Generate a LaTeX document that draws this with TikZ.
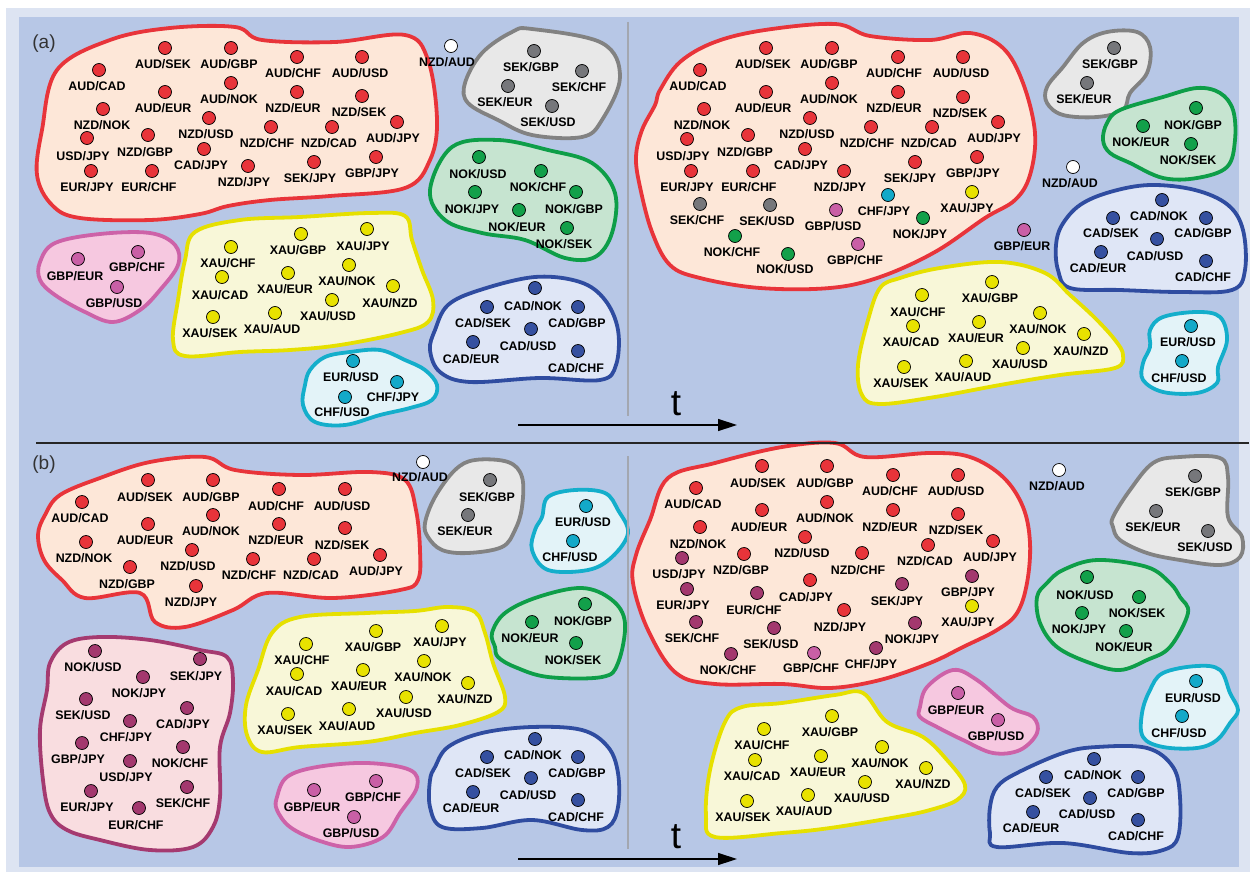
\documentclass[tikz,border=0pt]{standalone}
\usepackage{fontspec}
\setmainfont{Liberation Sans}
\usetikzlibrary{arrows.meta}
\definecolor{bg}{HTML}{B7C7E6}
\definecolor{frm}{HTML}{DDE4F2}
\definecolor{redS}{HTML}{E8343A}\definecolor{redF}{HTML}{FDE7D8}
\definecolor{grayS}{HTML}{828282}\definecolor{grayF}{HTML}{E8E8E8}\definecolor{grayD}{HTML}{76777B}
\definecolor{greenS}{HTML}{0E9E48}\definecolor{greenF}{HTML}{C6E4D0}\definecolor{greenD}{HTML}{12A04A}
\definecolor{pinkS}{HTML}{CD62A8}\definecolor{pinkF}{HTML}{F6C8E0}\definecolor{pinkD}{HTML}{C95FA6}
\definecolor{yelS}{HTML}{E6E000}\definecolor{yelF}{HTML}{F8F7D8}\definecolor{yelD}{HTML}{E8E200}
\definecolor{cyanS}{HTML}{14AECB}\definecolor{cyanF}{HTML}{E3F3F8}\definecolor{cyanD}{HTML}{13A9C9}
\definecolor{blueS}{HTML}{2F4CA0}\definecolor{blueF}{HTML}{DFE6F6}\definecolor{blueD}{HTML}{3550A0}
\definecolor{purS}{HTML}{A53A70}\definecolor{purF}{HTML}{F9DDE0}\definecolor{purD}{HTML}{A3386E}
\definecolor{divg}{HTML}{A3A7B0}
\newcounter{pc}
\newcommand{\cp}[6]{\stepcounter{pc}%
  \node[dotn,fill=#1] (d\arabic{pc}) at (#2,#3) {};%
  \node[lab] (l\arabic{pc}) at (#4,#5) {#6};}
\newcommand{\blobR}[3]{\filldraw[blobn,draw=#1,fill=#2] plot[smooth cycle,tension=0.6] coordinates {#3};}
\tikzset{
  dotn/.style={circle,draw=black,line width=0.7pt,minimum size=13pt,inner sep=0pt},
  lab/.style={font=\bfseries\fontsize{12.4}{13}\selectfont,inner sep=0pt},
  blobn/.style={line width=3.8pt,line join=round},
  tlab/.style={font=\fontsize{37}{40}\selectfont,inner sep=0pt},
  plab/.style={font=\fontsize{19}{21}\selectfont,text=black!80,inner sep=0pt},
  tarrow/.style={line width=1.4pt,-{Triangle[length=19pt,width=12pt]}},
}
\begin{document}
\begin{tikzpicture}[x=1pt,y=-1pt]
\useasboundingbox (0,0) rectangle (1250,872);
\fill[white] (0,0) rectangle (1250,872);
\fill[frm] (6,8) rectangle (1250,872);
\fill[bg] (19,17) rectangle (1239,867);
% ---------------- (a) left ----------------
\blobR{redS}{redF}{(57,70) (110,40) (170,28) (235,27) (262,40) (335,42) (405,35) (428,60) (437,120) (430,160) (405,188) (330,196) (270,200) (228,206) (200,214) (150,220) (80,218) (52,205) (37,175) (42,130)}
\blobR{grayS}{grayF}{(482,53) (512,32) (532,29) (602,43) (620,77) (602,120) (582,137) (532,135) (498,120) (468,103) (465,83)}
\blobR{greenS}{greenF}{(452,147) (498,140) (548,150) (592,163) (615,193) (612,233) (595,257) (565,258) (525,240) (482,233) (445,220) (430,190)}
\blobR{pinkS}{pinkF}{(40,262) (55,243) (100,234) (150,233) (175,245) (178,265) (160,290) (140,310) (113,322) (85,312) (55,295) (40,280)}
\blobR{yelS}{yelF}{(195,232) (240,220) (300,217) (370,213) (405,216) (412,240) (422,270) (433,300) (428,322) (400,333) (340,345) (290,350) (240,352) (185,356) (173,340) (178,300) (185,260)}
\blobR{cyanS}{cyanF}{(310,370) (325,357) (350,352) (380,350) (405,360) (425,370) (437,385) (432,400) (410,408) (380,415) (345,425) (315,422) (303,405) (305,385)}
\blobR{blueS}{blueF}{(435,330) (448,305) (480,290) (535,277) (580,282) (605,300) (618,330) (616,365) (600,380) (540,378) (470,382) (440,372) (430,350)}
% ---------------- (a) right ----------------
\blobR{redS}{redF}{(660,90) (680,62) (715,42) (765,30) (835,24) (870,36) (930,40) (970,33) (1003,48) (1023,83) (1035,133) (1030,175) (1015,200) (985,218) (935,252) (880,277) (830,288) (760,288) (700,278) (670,265) (652,232) (640,187) (636,157) (642,130) (655,105)}
\blobR{grayS}{grayF}{(1047,87) (1063,67) (1083,43) (1107,32) (1137,32) (1150,47) (1147,73) (1130,93) (1123,110) (1097,117) (1063,115) (1047,103)}
\blobR{greenS}{greenF}{(1107,123) (1120,110) (1163,97) (1197,88) (1220,93) (1233,110) (1235,140) (1227,167) (1197,178) (1163,178) (1130,163) (1110,153) (1103,140)}
\blobR{blueS}{blueF}{(1062,225) (1080,205) (1110,192) (1150,185) (1195,190) (1228,205) (1243,230) (1245,270) (1232,290) (1180,292) (1120,290) (1070,288) (1058,270) (1056,245)}
\blobR{yelS}{yelF}{(862,395) (858,365) (868,320) (880,288) (900,278) (940,268) (1000,262) (1045,273) (1070,295) (1095,318) (1115,340) (1123,355) (1115,368) (1060,375) (1000,385) (935,397) (880,404)}
\blobR{cyanS}{cyanF}{(1150,330) (1163,317) (1197,312) (1220,317) (1227,340) (1218,367) (1217,383) (1197,393) (1163,392) (1143,380) (1143,363) (1150,347)}
% ---------------- (b) left ----------------
\blobR{redS}{redF}{(45,515) (60,495) (100,478) (150,462) (205,457) (235,470) (300,475) (370,472) (405,480) (416,510) (420,550) (418,580) (400,590) (333,598) (267,593) (233,610) (185,627) (155,622) (140,593) (85,598) (62,580) (44,560) (38,535)}
\blobR{grayS}{grayF}{(425,523) (435,497) (455,470) (475,460) (508,462) (522,477) (522,507) (515,530) (502,547) (468,553) (442,550) (428,537)}
\blobR{cyanS}{cyanF}{(542,517) (548,497) (575,490) (605,493) (618,510) (628,533) (612,557) (588,570) (548,570) (532,550) (535,530)}
\blobR{greenS}{greenF}{(495,647) (492,633) (505,613) (538,597) (582,588) (612,600) (625,623) (618,663) (602,677) (548,677) (515,667) (498,657)}
\blobR{purS}{purF}{(50,663) (67,643) (100,637) (150,640) (200,650) (227,657) (233,680) (230,713) (220,747) (220,797) (213,827) (193,847) (150,850) (100,840) (67,830) (50,813) (43,780) (40,730) (47,690)}
\blobR{yelS}{yelF}{(247,735) (246,705) (258,670) (272,633) (300,617) (367,613) (415,611) (448,607) (475,612) (485,633) (493,663) (505,697) (498,712) (460,725) (415,733) (367,742) (300,747) (262,752)}
\blobR{pinkS}{pinkF}{(277,797) (287,777) (317,767) (367,763) (410,770) (417,787) (400,813) (383,837) (350,847) (317,840) (290,827) (277,810)}
\blobR{blueS}{blueF}{(435,767) (448,747) (482,733) (532,727) (582,730) (608,747) (618,773) (618,807) (608,827) (582,830) (532,820) (482,828) (442,827) (430,807) (430,780)}
% ---------------- (b) right ----------------
\blobR{redS}{redF}{(650,520) (668,478) (715,463) (782,447) (835,443) (865,457) (930,453) (970,457) (1003,477) (1023,507) (1030,543) (1027,583) (1017,613) (997,630) (963,647) (930,663) (880,680) (830,688) (782,684) (715,684) (676,673) (648,630) (633,583) (636,555)}
\blobR{grayS}{grayF}{(1113,517) (1130,490) (1153,463) (1180,457) (1220,458) (1228,477) (1228,517) (1242,537) (1240,557) (1220,565) (1180,560) (1147,553) (1120,540) (1113,527)}
\blobR{greenS}{greenF}{(1047,583) (1063,570) (1097,560) (1147,567) (1170,583) (1180,597) (1188,613) (1170,647) (1147,660) (1120,670) (1090,663) (1057,647) (1040,623) (1037,597)}
\blobR{pinkS}{pinkF}{(920,707) (927,687) (953,670) (977,680) (1010,707) (1033,717) (1037,733) (1020,750) (993,753) (963,740) (937,727) (920,717)}
\blobR{cyanS}{cyanF}{(1150,690) (1163,673) (1197,666) (1220,670) (1230,693) (1238,710) (1230,723) (1217,740) (1197,748) (1163,747) (1143,737) (1142,713)}
\blobR{yelS}{yelF}{(706,815) (710,770) (725,722) (742,707) (782,703) (835,695) (863,693) (887,722) (923,737) (947,760) (965,785) (957,800) (930,810) (897,817) (830,828) (782,833) (715,837)}
\blobR{blueS}{blueF}{(990,807) (997,787) (1017,773) (1063,753) (1097,747) (1147,748) (1173,767) (1180,797) (1178,837) (1163,850) (1130,853) (1063,843) (997,847) (990,833)}
% ---------------- dividers ----------------
\coordinate (h1) at (36,443); \coordinate (h2) at (1249,443);
\draw[line width=1.2pt,black!85] (h1) -- (h2);
\coordinate (v1) at (628,22); \coordinate (v2) at (628,416);
\coordinate (v3) at (628,456); \coordinate (v4) at (628,849);
\draw[line width=1.8pt,divg] (v1) -- (v2);
\draw[line width=1.8pt,divg] (v3) -- (v4);
\node[plab] (pa) at (44,44) {(a)};
\node[plab] (pb) at (44,465) {(b)};
\coordinate (ta1) at (518,425); \coordinate (ta2) at (737,425);
\draw[tarrow] (ta1) -- (ta2);
\node[tlab] (t1) at (676,404) {t};
\coordinate (tb1) at (518,859); \coordinate (tb2) at (737,859);
\draw[tarrow] (tb1) -- (tb2);
\node[tlab] (t2) at (676,837) {t};
% ================= (a) left dots =================
\cp{redS}{165}{48}{163}{64}{AUD/SEK}
\cp{redS}{231}{48}{229}{64}{AUD/GBP}
\cp{redS}{297}{57}{293}{73}{AUD/CHF}
\cp{redS}{362}{57}{360}{73}{AUD/USD}
\cp{redS}{99}{70}{97}{86}{AUD/CAD}
\cp{redS}{165}{92}{163}{108}{AUD/EUR}
\cp{redS}{231}{83}{229}{99}{AUD/NOK}
\cp{redS}{297}{92}{293}{108}{NZD/EUR}
\cp{redS}{362}{96}{359}{112}{NZD/SEK}
\cp{redS}{103}{109}{102}{125}{NZD/NOK}
\cp{redS}{209}{118}{206}{134}{NZD/USD}
\cp{redS}{271}{127}{267}{143}{NZD/CHF}
\cp{redS}{332}{127}{329}{143}{NZD/CAD}
\cp{redS}{397}{122}{393}{138}{AUD/JPY}
\cp{redS}{87}{138}{83}{156}{USD/JPY}
\cp{redS}{148}{135}{145}{152}{NZD/GBP}
\cp{redS}{204}{149}{201}{165}{CAD/JPY}
\cp{redS}{91}{171}{87}{187}{EUR/JPY}
\cp{redS}{152}{171}{149}{187}{EUR/CHF}
\cp{redS}{248}{166}{244}{182}{NZD/JPY}
\cp{redS}{314}{162}{310}{178}{SEK/JPY}
\cp{redS}{376}{157}{372}{173}{GBP/JPY}
\cp{white}{451}{46}{447}{62}{NZD/AUD}
\cp{grayD}{534}{51}{531}{67}{SEK/GBP}
\cp{grayD}{582}{71}{579}{87}{SEK/CHF}
\cp{grayD}{508}{86}{505}{102}{SEK/EUR}
\cp{grayD}{552}{106}{548}{122}{SEK/USD}
\cp{greenD}{479}{157}{478}{174}{NOK/USD}
\cp{greenD}{541}{171}{538}{187}{NOK/CHF}
\cp{greenD}{475}{192}{472}{209}{NOK/JPY}
\cp{greenD}{576}{192}{574}{209}{NOK/GBP}
\cp{greenD}{519}{210}{517}{227}{NOK/EUR}
\cp{greenD}{567}{228}{564}{244}{NOK/SEK}
\cp{pinkD}{78}{259}{75}{276}{GBP/EUR}
\cp{pinkD}{138}{252}{137}{267}{GBP/CHF}
\cp{pinkD}{117}{287}{114}{303}{GBP/USD}
\cp{yelD}{231}{247}{228}{263}{XAU/CHF}
\cp{yelD}{301}{234}{298}{250}{XAU/GBP}
\cp{yelD}{367}{229}{363}{246}{XAU/JPY}
\cp{yelD}{222}{277}{220}{295}{XAU/CAD}
\cp{yelD}{288}{273}{285}{289}{XAU/EUR}
\cp{yelD}{349}{265}{347}{281}{XAU/NOK}
\cp{yelD}{393}{286}{390}{303}{XAU/NZD}
\cp{yelD}{332}{300}{328}{316}{XAU/USD}
\cp{yelD}{213}{317}{210}{333}{XAU/SEK}
\cp{yelD}{275}{313}{272}{329}{XAU/AUD}
\cp{cyanD}{353}{361}{351}{377}{EUR/USD}
\cp{cyanD}{397}{382}{393}{397}{CHF/JPY}
\cp{cyanD}{345}{397}{342}{412}{CHF/USD}
\cp{blueD}{535}{288}{533}{306}{CAD/NOK}
\cp{blueD}{487}{307}{483}{323}{CAD/SEK}
\cp{blueD}{578}{307}{577}{323}{CAD/GBP}
\cp{blueD}{531}{329}{528}{346}{CAD/USD}
\cp{blueD}{473}{342}{471}{359}{CAD/EUR}
\cp{blueD}{578}{351}{576}{368}{CAD/CHF}
% ================= (a) right dots =================
\cp{redS}{766}{48}{763}{64}{AUD/SEK}
\cp{redS}{832}{48}{829}{64}{AUD/GBP}
\cp{redS}{898}{57}{894}{73}{AUD/CHF}
\cp{redS}{963}{57}{961}{73}{AUD/USD}
\cp{redS}{700}{70}{698}{86}{AUD/CAD}
\cp{redS}{766}{92}{763}{108}{AUD/EUR}
\cp{redS}{832}{83}{829}{99}{AUD/NOK}
\cp{redS}{898}{92}{894}{108}{NZD/EUR}
\cp{redS}{963}{97}{960}{113}{NZD/SEK}
\cp{redS}{704}{109}{702}{125}{NZD/NOK}
\cp{redS}{810}{118}{807}{134}{NZD/USD}
\cp{redS}{871}{127}{867}{143}{NZD/CHF}
\cp{redS}{932}{127}{929}{143}{NZD/CAD}
\cp{redS}{998}{122}{994}{138}{AUD/JPY}
\cp{redS}{687}{139}{683}{156}{USD/JPY}
\cp{redS}{748}{135}{745}{152}{NZD/GBP}
\cp{redS}{805}{149}{801}{165}{CAD/JPY}
\cp{redS}{691}{171}{687}{187}{EUR/JPY}
\cp{redS}{753}{171}{749}{187}{EUR/CHF}
\cp{redS}{844}{171}{840}{187}{NZD/JPY}
\cp{redS}{915}{162}{910}{178}{SEK/JPY}
\cp{redS}{977}{157}{973}{173}{GBP/JPY}
\cp{grayD}{700}{204}{697}{220}{SEK/CHF}
\cp{grayD}{770}{205}{767}{221}{SEK/USD}
\cp{pinkD}{836}{210}{833}{226}{GBP/USD}
\cp{cyanD}{888}{195}{884}{211}{CHF/JPY}
\cp{yelD}{972}{192}{967}{208}{XAU/JPY}
\cp{greenD}{923}{218}{920}{234}{NOK/JPY}
\cp{greenD}{735}{236}{732}{252}{NOK/CHF}
\cp{greenD}{788}{254}{785}{269}{NOK/USD}
\cp{pinkD}{858}{244}{855}{260}{GBP/CHF}
\cp{grayD}{1114}{48}{1110}{64}{SEK/GBP}
\cp{grayD}{1087}{83}{1084}{99}{SEK/EUR}
\cp{greenD}{1196}{108}{1193}{125}{NOK/GBP}
\cp{greenD}{1143}{126}{1141}{142}{NOK/EUR}
\cp{greenD}{1191}{144}{1188}{160}{NOK/SEK}
\cp{white}{1073}{167}{1070}{183}{NZD/AUD}
\cp{pinkD}{1024}{230}{1022}{246}{GBP/EUR}
\cp{blueD}{1162}{200}{1159}{216}{CAD/NOK}
\cp{blueD}{1113}{218}{1111}{233}{CAD/SEK}
\cp{blueD}{1206}{218}{1203}{233}{CAD/GBP}
\cp{blueD}{1157}{239}{1155}{256}{CAD/USD}
\cp{blueD}{1101}{252}{1098}{268}{CAD/EUR}
\cp{blueD}{1206}{261}{1203}{277}{CAD/CHF}
\cp{yelD}{992}{282}{990}{298}{XAU/GBP}
\cp{yelD}{922}{295}{918}{312}{XAU/CHF}
\cp{yelD}{913}{326}{911}{342}{XAU/CAD}
\cp{yelD}{979}{322}{976}{338}{XAU/EUR}
\cp{yelD}{1040}{313}{1038}{329}{XAU/NOK}
\cp{yelD}{1084}{334}{1081}{351}{XAU/NZD}
\cp{yelD}{1023}{348}{1020}{364}{XAU/USD}
\cp{yelD}{904}{367}{901}{383}{XAU/SEK}
\cp{yelD}{966}{361}{963}{377}{XAU/AUD}
\cp{cyanD}{1191}{326}{1188}{342}{EUR/USD}
\cp{cyanD}{1182}{361}{1179}{378}{CHF/USD}
% ================= (b) left dots =================
\cp{redS}{148}{480}{145}{497}{AUD/SEK}
\cp{redS}{213}{480}{211}{497}{AUD/GBP}
\cp{redS}{279}{489}{276}{506}{AUD/CHF}
\cp{redS}{345}{489}{342}{506}{AUD/USD}
\cp{redS}{82}{502}{80}{518}{AUD/CAD}
\cp{redS}{148}{524}{145}{540}{AUD/EUR}
\cp{redS}{213}{515}{211}{531}{AUD/NOK}
\cp{redS}{279}{524}{276}{540}{NZD/EUR}
\cp{redS}{345}{528}{342}{545}{NZD/SEK}
\cp{redS}{86}{542}{84}{558}{NZD/NOK}
\cp{redS}{192}{550}{188}{566}{NZD/USD}
\cp{redS}{253}{559}{249}{575}{NZD/CHF}
\cp{redS}{314}{559}{311}{575}{NZD/CAD}
\cp{redS}{380}{555}{376}{571}{AUD/JPY}
\cp{redS}{130}{567}{127}{584}{NZD/GBP}
\cp{redS}{196}{586}{191}{602}{NZD/JPY}
\cp{white}{423}{462}{420}{477}{NZD/AUD}
\cp{grayD}{490}{480}{487}{497}{SEK/GBP}
\cp{grayD}{468}{515}{465}{531}{SEK/EUR}
\cp{cyanD}{586}{506}{583}{522}{EUR/USD}
\cp{cyanD}{573}{541}{570}{557}{CHF/USD}
\cp{greenD}{585}{604}{583}{621}{NOK/GBP}
\cp{greenD}{532}{622}{530}{638}{NOK/EUR}
\cp{greenD}{576}{643}{573}{660}{NOK/SEK}
\cp{purD}{95}{651}{93}{667}{NOK/USD}
\cp{purD}{200}{659}{196}{676}{SEK/JPY}
\cp{purD}{143}{677}{139}{693}{NOK/JPY}
\cp{purD}{86}{699}{83}{715}{SEK/USD}
\cp{purD}{187}{708}{183}{724}{CAD/JPY}
\cp{purD}{130}{721}{126}{737}{CHF/JPY}
\cp{purD}{82}{743}{78}{759}{GBP/JPY}
\cp{purD}{183}{747}{180}{763}{NOK/CHF}
\cp{purD}{130}{761}{126}{777}{USD/JPY}
\cp{purD}{91}{791}{87}{807}{EUR/JPY}
\cp{purD}{187}{787}{183}{803}{SEK/CHF}
\cp{purD}{139}{808}{136}{825}{EUR/CHF}
\cp{yelD}{306}{644}{302}{660}{XAU/CHF}
\cp{yelD}{376}{631}{373}{647}{XAU/GBP}
\cp{yelD}{442}{626}{440}{642}{XAU/JPY}
\cp{yelD}{297}{674}{294}{691}{XAU/CAD}
\cp{yelD}{363}{670}{359}{686}{XAU/EUR}
\cp{yelD}{424}{661}{423}{677}{XAU/NOK}
\cp{yelD}{468}{683}{465}{699}{XAU/NZD}
\cp{yelD}{406}{697}{404}{713}{XAU/USD}
\cp{yelD}{288}{714}{285}{730}{XAU/SEK}
\cp{yelD}{349}{709}{347}{726}{XAU/AUD}
\cp{pinkD}{314}{790}{312}{807}{GBP/EUR}
\cp{pinkD}{376}{781}{373}{797}{GBP/CHF}
\cp{pinkD}{354}{817}{351}{833}{GBP/USD}
\cp{blueD}{535}{739}{533}{755}{CAD/NOK}
\cp{blueD}{487}{757}{483}{773}{CAD/SEK}
\cp{blueD}{578}{757}{577}{773}{CAD/GBP}
\cp{blueD}{531}{778}{528}{795}{CAD/USD}
\cp{blueD}{473}{792}{471}{808}{CAD/EUR}
\cp{blueD}{578}{800}{576}{817}{CAD/CHF}
% ================= (b) right dots =================
\cp{redS}{762}{466}{758}{483}{AUD/SEK}
\cp{redS}{827}{466}{825}{483}{AUD/GBP}
\cp{redS}{893}{475}{890}{491}{AUD/CHF}
\cp{redS}{958}{475}{956}{491}{AUD/USD}
\cp{redS}{696}{488}{693}{504}{AUD/CAD}
\cp{redS}{762}{510}{759}{527}{AUD/EUR}
\cp{redS}{827}{502}{825}{518}{AUD/NOK}
\cp{redS}{893}{510}{890}{527}{NZD/EUR}
\cp{redS}{958}{514}{956}{530}{NZD/SEK}
\cp{redS}{700}{527}{698}{544}{NZD/NOK}
\cp{redS}{805}{537}{802}{553}{NZD/USD}
\cp{redS}{862}{553}{858}{570}{NZD/CHF}
\cp{redS}{928}{545}{925}{561}{NZD/CAD}
\cp{redS}{993}{541}{990}{557}{AUD/JPY}
\cp{purD}{682}{558}{679}{574}{USD/JPY}
\cp{redS}{744}{554}{741}{570}{NZD/GBP}
\cp{redS}{810}{580}{806}{597}{CAD/JPY}
\cp{purD}{687}{589}{683}{605}{EUR/JPY}
\cp{purD}{757}{593}{754}{610}{EUR/CHF}
\cp{redS}{844}{610}{840}{627}{NZD/JPY}
\cp{purD}{902}{584}{897}{601}{SEK/JPY}
\cp{purD}{972}{576}{968}{592}{GBP/JPY}
\cp{yelD}{972}{606}{968}{622}{XAU/JPY}
\cp{purD}{696}{622}{692}{638}{SEK/CHF}
\cp{purD}{774}{628}{771}{644}{SEK/USD}
\cp{purD}{915}{623}{912}{639}{NOK/JPY}
\cp{purD}{731}{654}{728}{670}{NOK/CHF}
\cp{pinkD}{814}{653}{811}{668}{GBP/CHF}
\cp{purD}{876}{648}{871}{664}{CHF/JPY}
\cp{white}{1059}{470}{1057}{486}{NZD/AUD}
\cp{grayD}{1195}{476}{1193}{492}{SEK/GBP}
\cp{grayD}{1156}{511}{1153}{527}{SEK/EUR}
\cp{grayD}{1208}{531}{1205}{547}{SEK/USD}
\cp{greenD}{1087}{577}{1085}{595}{NOK/USD}
\cp{greenD}{1139}{597}{1137}{613}{NOK/SEK}
\cp{greenD}{1082}{613}{1079}{629}{NOK/JPY}
\cp{greenD}{1126}{631}{1124}{647}{NOK/EUR}
\cp{pinkD}{958}{693}{956}{710}{GBP/EUR}
\cp{pinkD}{998}{720}{996}{736}{GBP/USD}
\cp{cyanD}{1196}{681}{1193}{698}{EUR/USD}
\cp{cyanD}{1182}{716}{1179}{733}{CHF/USD}
\cp{yelD}{764}{729}{762}{745}{XAU/CHF}
\cp{yelD}{832}{716}{830}{732}{XAU/GBP}
\cp{yelD}{755}{760}{752}{776}{XAU/CAD}
\cp{yelD}{821}{756}{818}{772}{XAU/EUR}
\cp{yelD}{882}{747}{880}{763}{XAU/NOK}
\cp{yelD}{926}{768}{923}{784}{XAU/NZD}
\cp{yelD}{865}{782}{862}{798}{XAU/USD}
\cp{yelD}{747}{801}{743}{817}{XAU/SEK}
\cp{yelD}{808}{795}{804}{811}{XAU/AUD}
\cp{blueD}{1094}{759}{1093}{775}{CAD/NOK}
\cp{blueD}{1046}{777}{1043}{793}{CAD/SEK}
\cp{blueD}{1138}{777}{1136}{793}{CAD/GBP}
\cp{blueD}{1090}{798}{1087}{814}{CAD/USD}
\cp{blueD}{1033}{812}{1031}{828}{CAD/EUR}
\cp{blueD}{1138}{820}{1136}{836}{CAD/CHF}
\end{tikzpicture}
\end{document}
